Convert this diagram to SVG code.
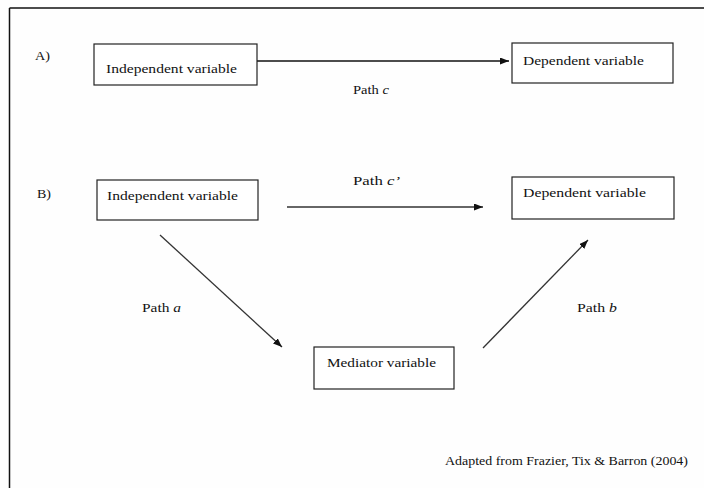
<svg xmlns="http://www.w3.org/2000/svg" width="704" height="488" viewBox="0 0 704 488">
  <style>
    .lbl { font-family: 'Liberation Serif', 'DejaVu Serif', 'Times New Roman', serif; font-size: 13px; fill: #111; }
    .box { fill: #fff; stroke: #222; stroke-width: 1.2; }
    .edge { stroke: #333; stroke-width: 1.3; fill: none; marker-end: url(#arrow); }
    .frame { stroke: #111; stroke-width: 1.5; }
  </style>
  <defs>
    <marker id="arrow" markerUnits="userSpaceOnUse" markerWidth="10" markerHeight="8" refX="9" refY="3.5" orient="auto">
      <path d="M0,0 L9,3.5 L0,7 z" fill="#111"/>
    </marker>
  </defs>

  <rect width="704" height="488" fill="#fefefe"/>
  <!-- frame: top and left edges only -->
  <line class="frame" x1="9.5" y1="8" x2="704" y2="8"/>
  <line class="frame" x1="9.5" y1="8" x2="9.5" y2="488"/>

  <g class="lbl">
    <!-- panel labels -->
    <text x="35" y="60" textLength="15" lengthAdjust="spacingAndGlyphs">A)</text>
    <text x="37" y="198" textLength="14" lengthAdjust="spacingAndGlyphs">B)</text>
  </g>

  <!-- connectors -->
  <g id="connectors">
    <line class="edge" x1="257" y1="61" x2="509" y2="61" style="stroke:#111"/>
    <line class="edge" x1="287" y1="207" x2="483" y2="207" style="stroke:#666;stroke-width:1.8"/>
    <line class="edge" x1="160" y1="235" x2="282" y2="347"/>
    <line class="edge" x1="483" y1="348" x2="588" y2="240"/>
    <g class="lbl">
      <text x="353" y="94" textLength="36" lengthAdjust="spacingAndGlyphs">Path <tspan font-style="italic">c</tspan></text>
      <text x="353" y="185" textLength="47" lengthAdjust="spacingAndGlyphs">Path <tspan font-style="italic">c’</tspan></text>
      <text x="142" y="312" textLength="39" lengthAdjust="spacingAndGlyphs">Path <tspan font-style="italic">a</tspan></text>
      <text x="577" y="312" textLength="40" lengthAdjust="spacingAndGlyphs">Path <tspan font-style="italic">b</tspan></text>
    </g>
  </g>

  <!-- panel A -->
  <g id="iv-a" class="lbl">
    <rect class="box" x="94" y="44" width="163" height="41"/>
    <text x="106" y="73" textLength="131" lengthAdjust="spacingAndGlyphs">Independent variable</text>
  </g>
  <g id="dv-a" class="lbl">
    <rect class="box" x="512" y="43" width="161" height="40"/>
    <text x="523" y="65" textLength="121" lengthAdjust="spacingAndGlyphs">Dependent variable</text>
  </g>

  <!-- panel B -->
  <g id="iv-b" class="lbl">
    <rect class="box" x="97" y="180" width="161" height="40"/>
    <text x="107" y="200" textLength="131" lengthAdjust="spacingAndGlyphs">Independent variable</text>
  </g>
  <g id="dv-b" class="lbl">
    <rect class="box" x="512" y="177" width="162" height="42"/>
    <text x="523" y="197" textLength="123" lengthAdjust="spacingAndGlyphs">Dependent variable</text>
  </g>
  <g id="mediator" class="lbl">
    <rect class="box" x="314" y="347" width="140" height="42"/>
    <text x="327" y="367" textLength="109" lengthAdjust="spacingAndGlyphs">Mediator variable</text>
  </g>

  <!-- source note -->
  <g class="lbl">
    <text x="445" y="465" textLength="243" lengthAdjust="spacingAndGlyphs">Adapted from Frazier, Tix &amp; Barron (2004)</text>
  </g>
</svg>
